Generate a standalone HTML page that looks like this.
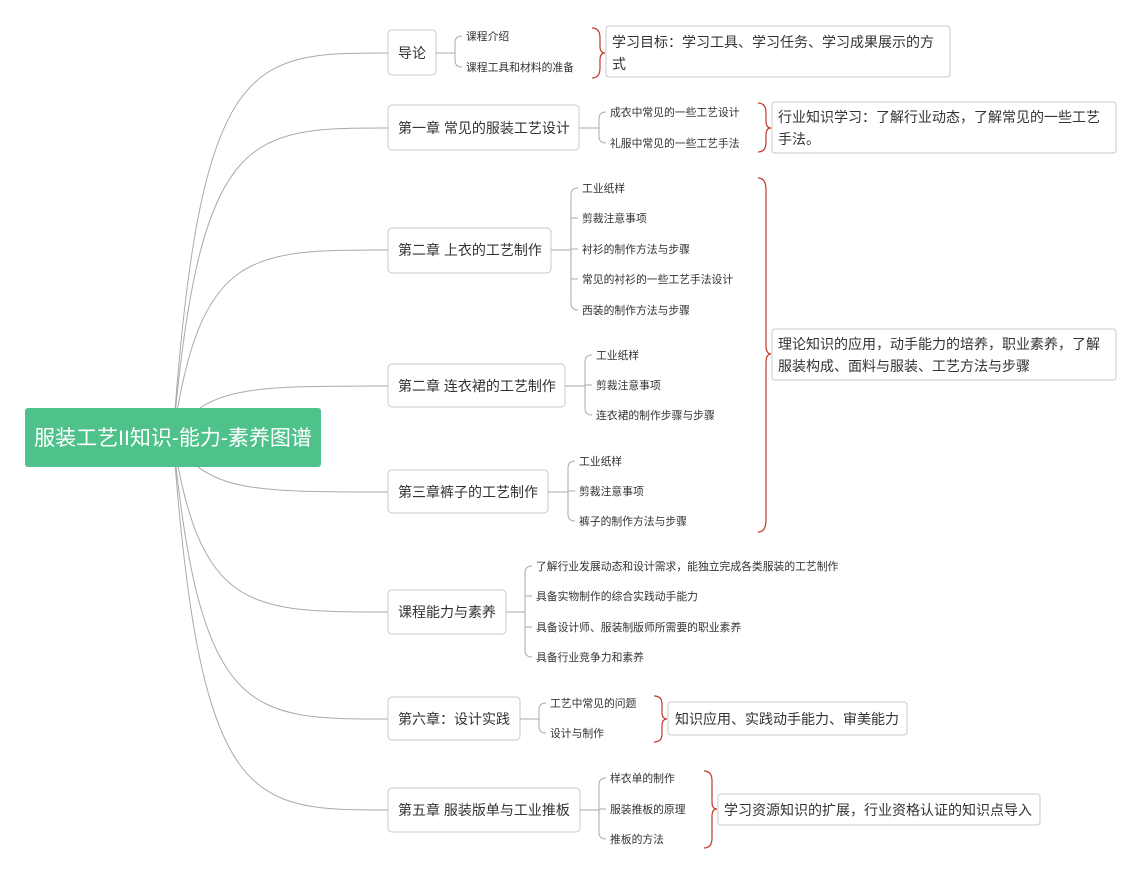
<!DOCTYPE html>
<html><head><meta charset="utf-8"><style>
body{margin:0;background:#fff}
svg{display:block;font-family:"Liberation Sans","Noto Sans CJK SC",sans-serif}
.b{fill:#fff;stroke:#c8c8c8;stroke-width:1}
.t{font-size:14px;fill:#333}
.l{font-size:10.8px;fill:#333}
.c{fill:none;stroke:#aaa;stroke-width:1}
.r{fill:none;stroke:#c0392b;stroke-width:1.2}
</style></head><body>
<svg width="1140" height="873" viewBox="0 0 1140 873">
<g class="c">
<path d="M173 437 C200 53,250 53,388 53"/>
<path d="M173 437 C200 128,250 128,388 128"/>
<path d="M173 437 C200 250,250 250,388 250"/>
<path d="M173 437 C205 386,250 386,388 386"/>
<path d="M173 437 C205 492,250 492,388 492"/>
<path d="M173 437 C200 612,250 612,388 612"/>
<path d="M173 437 C200 719,250 719,388 719"/>
<path d="M173 437 C200 810,250 810,388 810"/>
</g>
<rect x="25" y="408" width="296" height="59" rx="3" fill="#4fc18b"/>
<text x="173" y="445" text-anchor="middle" font-size="21" fill="#fff">服装工艺II知识-能力-素养图谱</text>

<rect class="b" x="388" y="30" width="48" height="45" rx="4"/><text class="t" x="398" y="58">导论</text>
<rect class="b" x="388" y="105" width="191" height="45" rx="4"/><text class="t" x="398" y="133">第一章 常见的服装工艺设计</text>
<rect class="b" x="388" y="228" width="163" height="45" rx="4"/><text class="t" x="398" y="255">第二章 上衣的工艺制作</text>
<rect class="b" x="388" y="364" width="177" height="43" rx="4"/><text class="t" x="398" y="391">第二章 连衣裙的工艺制作</text>
<rect class="b" x="388" y="470" width="160" height="43" rx="4"/><text class="t" x="398" y="497">第三章裤子的工艺制作</text>
<rect class="b" x="388" y="590" width="118" height="44" rx="4"/><text class="t" x="398" y="617">课程能力与素养</text>
<rect class="b" x="388" y="697" width="132" height="43" rx="4"/><text class="t" x="398" y="724">第六章：设计实践</text>
<rect class="b" x="388" y="788" width="192" height="44" rx="4"/><text class="t" x="398" y="815">第五章 服装版单与工业推板</text>

<g class="c">
<path d="M436 53 H455 M462 36 Q455 36 455 43 V60 Q455 67 462 67"/>
<path d="M579 128 H599 M606 112 Q599 112 599 119 V136 Q599 143 606 143"/>
<path d="M551 250 H571 M578 188 Q571 188 571 195 V303 Q571 310 578 310 M571 218 H578 M571 249 H578 M571 279 H578"/>
<path d="M565 386 H585 M592 355 Q585 355 585 362 V408 Q585 415 592 415 M585 385 H592"/>
<path d="M548 492 H568 M575 461 Q568 461 568 468 V514 Q568 521 575 521 M568 491 H575"/>
<path d="M506 612 H525 M532 566 Q525 566 525 573 V650 Q525 657 532 657 M525 596 H532 M525 627 H532"/>
<path d="M520 719 H539 M546 703 Q539 703 539 710 V726 Q539 733 546 733"/>
<path d="M580 810 H599 M606 778 Q599 778 599 785 V832 Q599 839 606 839 M599 809 H606"/>
</g>
<g class="l">
<text x="466" y="40">课程介绍</text><text x="466" y="71">课程工具和材料的准备</text>
<text x="610" y="116">成衣中常见的一些工艺设计</text><text x="610" y="147">礼服中常见的一些工艺手法</text>
<text x="582" y="192">工业纸样</text><text x="582" y="222">剪裁注意事项</text><text x="582" y="253">衬衫的制作方法与步骤</text><text x="582" y="283">常见的衬衫的一些工艺手法设计</text><text x="582" y="314">西装的制作方法与步骤</text>
<text x="596" y="359">工业纸样</text><text x="596" y="389">剪裁注意事项</text><text x="596" y="419">连衣裙的制作步骤与步骤</text>
<text x="579" y="465">工业纸样</text><text x="579" y="495">剪裁注意事项</text><text x="579" y="525">裤子的制作方法与步骤</text>
<text x="536" y="570">了解行业发展动态和设计需求，能独立完成各类服装的工艺制作</text><text x="536" y="600">具备实物制作的综合实践动手能力</text><text x="536" y="631">具备设计师、服装制版师所需要的职业素养</text><text x="536" y="661">具备行业竞争力和素养</text>
<text x="550" y="707">工艺中常见的问题</text><text x="550" y="737">设计与制作</text>
<text x="610" y="782">样衣单的制作</text><text x="610" y="813">服装推板的原理</text><text x="610" y="843">推板的方法</text>
</g>
<g class="r">
<path d="M592 28 Q600 28 600 38 V46 Q600 53 605 53 Q600 53 600 60 V68 Q600 78 592 78"/>
<path d="M758 103 Q766 103 766 113 V121 Q766 128 771 128 Q766 128 766 135 V142 Q766 152 758 152"/>
<path d="M758 178 Q766 178 766 190 V345 Q766 354 771 354 Q766 354 766 363 V520 Q766 532 758 532"/>
<path d="M654 696 Q662 696 662 704 V712 Q662 719 667 719 Q662 719 662 726 V734 Q662 742 654 742"/>
<path d="M704 771 Q712 771 712 781 V802 Q712 809 717 809 Q712 809 712 816 V838 Q712 848 704 848"/>
</g>
<rect class="b" x="606" y="26" width="344" height="51" rx="3"/><text class="t" x="612" y="47">学习目标：学习工具、学习任务、学习成果展示的方</text><text class="t" x="612" y="69">式</text>
<rect class="b" x="772" y="102" width="344" height="51" rx="3"/><text class="t" x="778" y="122">行业知识学习：了解行业动态，了解常见的一些工艺</text><text class="t" x="778" y="144">手法。</text>
<rect class="b" x="772" y="329" width="344" height="51" rx="3"/><text class="t" x="778" y="349">理论知识的应用，动手能力的培养，职业素养，了解</text><text class="t" x="778" y="371">服装构成、面料与服装、工艺方法与步骤</text>
<rect class="b" x="668" y="702" width="239" height="33" rx="3"/><text class="t" x="675" y="724">知识应用、实践动手能力、审美能力</text>
<rect class="b" x="718" y="794" width="322" height="31" rx="3"/><text class="t" x="724" y="815">学习资源知识的扩展，行业资格认证的知识点导入</text>
</svg>
</body></html>
